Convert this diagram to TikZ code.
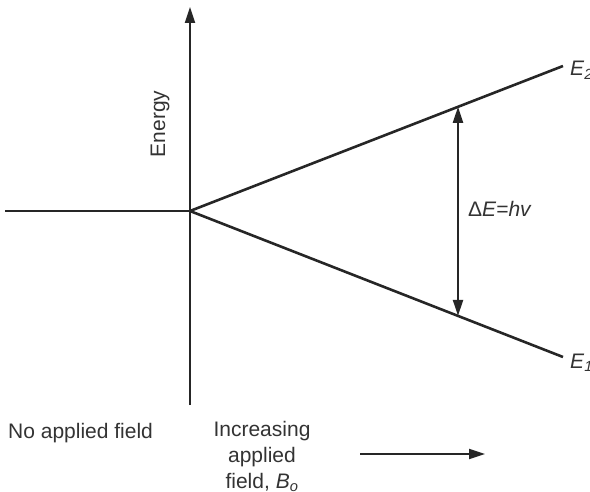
\documentclass[tikz,border=0pt]{standalone}
\usepackage{fontspec}
\setmainfont{Liberation Sans}
\usepackage{tikz}
\usetikzlibrary{
    arrows.meta,
    positioning,
    calc
}
\tikzset{
  lvl/.style   = {line width=2.6pt, black!85},
  axis/.style  = {line width=2pt, black!85},
  arr/.style   = {-{Triangle[length=16pt,width=10pt]}, line width=2pt, black!85},
  darr/.style  = {{Triangle[length=16pt,width=10pt]}-{Triangle[length=16pt,width=10pt]},
                  line width=2pt, black!85},
  lbl/.style   = {font=\fontsize{21}{26}\selectfont, text=black!80, inner sep=0pt,
                  align=center}
}

\begin{document}
\begin{tikzpicture}[x=1pt, y=-1pt]
    \useasboundingbox (0,0) rectangle (590,492);
    % levels
    \coordinate (o)   at (190,211);
    \coordinate (top) at (190,7);
    \coordinate (bot) at (190,405);
    \coordinate (lft) at (5,211);
    \coordinate (e2)  at (563,66);
    \coordinate (e1)  at (563,357);
    \draw[axis] (bot) -- (o);
    \draw[arr] (o) -- (top);
    \draw[lvl] (lft) -- (o);
    \draw[lvl] (o) -- (e2);
    \draw[lvl] (o) -- (e1);
    % gap
    \coordinate (up) at ($(o)!0.7185!(e2)$);
    \coordinate (dn) at ($(o)!0.7185!(e1)$);
    \draw[darr] (up) -- (dn);
    % labels
    \node[lbl, anchor=base west] (le2) at (570,76) {\textit{E}\textsubscript{\textit{2}}};
    \node[lbl, anchor=base west] (le1) at (570,368) {\textit{E}\textsubscript{\textit{1}}};
    \node[lbl, anchor=base west] (dE) at (468,217) {Δ\textit{E=hv}};
    \node[lbl, rotate=90] (en) at (160,124) {Energy};
    \node[lbl, anchor=base west] (nf) at (8,438) {No applied field};
    \node[lbl, anchor=north] (inc) at (262,421) {Increasing\\applied\\field, \textit{B}\textsubscript{\textit{o}}};
    \coordinate (a1) at (360,454);
    \coordinate (a2) at (485,454);
    \draw[arr] (a1) -- (a2);
\end{tikzpicture}
\end{document}
